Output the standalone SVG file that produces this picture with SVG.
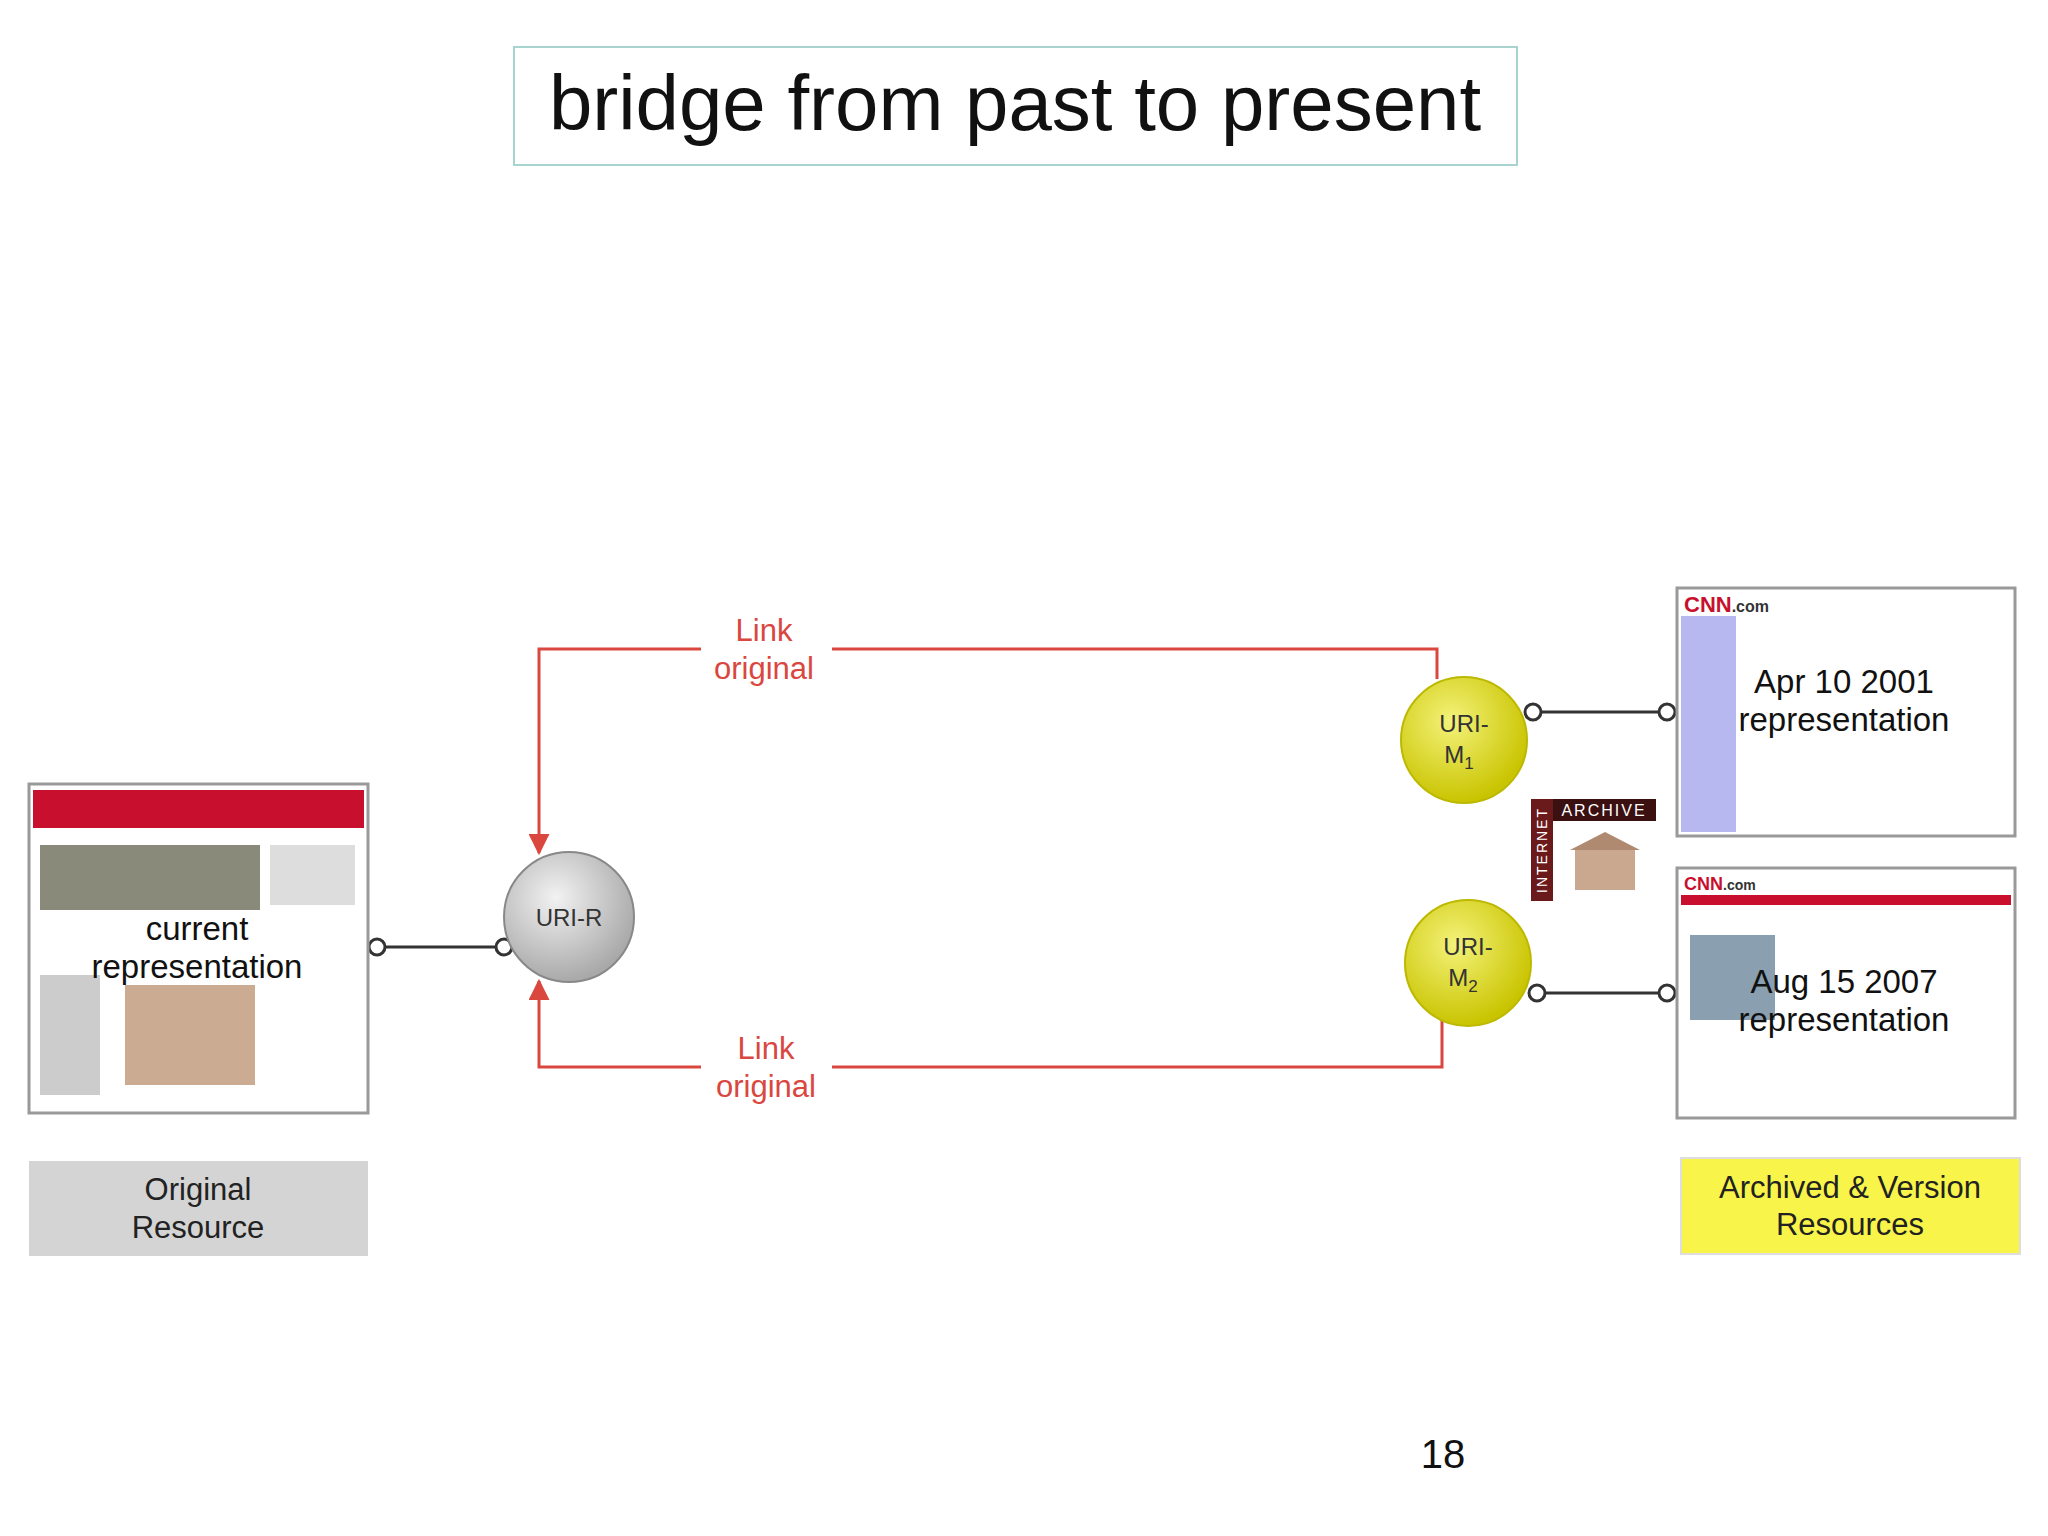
<svg xmlns="http://www.w3.org/2000/svg" width="2048" height="1536" viewBox="0 0 2048 1536">
<defs>
<style>
.t{font-family:"Liberation Sans",Arial,sans-serif}
.red{fill:none;stroke:#d9473f;stroke-width:3}
.lab{font-family:"Liberation Sans",Arial,sans-serif;font-size:31px;fill:#d9473f;text-anchor:middle}
.con{stroke:#333;stroke-width:3;fill:none}
.end{fill:#fff;stroke:#333;stroke-width:3}
.shot{fill:#fff;stroke:#999;stroke-width:3}
.over{font-family:"Liberation Sans",Arial,sans-serif;font-size:33px;fill:#111;text-anchor:middle}
.node{font-family:"Liberation Sans",Arial,sans-serif;font-size:24px;fill:#333;text-anchor:middle}
</style>
<marker id="ar" viewBox="0 0 10 10" refX="9" refY="5" markerWidth="7" markerHeight="7" orient="auto"><path d="M0,0L10,5L0,10z" fill="#d9473f"/></marker>
<radialGradient id="gy" cx="40%" cy="35%" r="65%"><stop offset="0" stop-color="#f4f27a"/><stop offset="1" stop-color="#c9c400"/></radialGradient>
<radialGradient id="gg" cx="40%" cy="35%" r="65%"><stop offset="0" stop-color="#f2f2f2"/><stop offset="1" stop-color="#a9a9a9"/></radialGradient>
</defs>
<rect width="2048" height="1536" fill="#fff"/>
<g id="title"><rect x="514" y="47" width="1003" height="118" fill="#fff" stroke="#a8d4d0" stroke-width="2"/>
<text class="t" x="1015" y="130" font-size="78" text-anchor="middle" fill="#111">bridge from past to present</text></g>

<g id="connectors">
<polyline class="red" points="1437,679 1437,649 832,649"/>
<polyline class="red" points="701,649 539,649 539,853" marker-end="url(#ar)"/>
<text class="lab" x="764" y="641">Link</text><text class="lab" x="764" y="679">original</text>
<polyline class="red" points="1442,1000 1442,1067 832,1067"/>
<polyline class="red" points="701,1067 539,1067 539,981" marker-end="url(#ar)"/>
<text class="lab" x="766" y="1059">Link</text><text class="lab" x="766" y="1097">original</text>
<line class="con" x1="377" y1="947" x2="504" y2="947"/><circle class="end" cx="377" cy="947" r="8"/><circle class="end" cx="504" cy="947" r="8"/>
<line class="con" x1="1533" y1="712" x2="1667" y2="712"/><circle class="end" cx="1533" cy="712" r="8"/><circle class="end" cx="1667" cy="712" r="8"/>
<line class="con" x1="1537" y1="993" x2="1667" y2="993"/><circle class="end" cx="1537" cy="993" r="8"/><circle class="end" cx="1667" cy="993" r="8"/>
</g>

<g id="current">
<rect class="shot" x="29" y="784" width="339" height="329"/>
<rect x="33" y="790" width="331" height="38" fill="#c8102e"/>
<rect x="40" y="845" width="220" height="65" fill="#8a8a7a"/>
<rect x="40" y="975" width="60" height="120" fill="#ccc"/>
<rect x="125" y="985" width="130" height="100" fill="#a8744a" opacity="0.6"/>
<rect x="270" y="845" width="85" height="60" fill="#ddd"/>
<text class="over" x="197" y="940">current</text><text class="over" x="197" y="978">representation</text>
</g>
<g id="original-label"><rect x="29" y="1161" width="339" height="95" fill="#d4d4d4"/>
<text class="t" x="198" y="1200" font-size="31" text-anchor="middle" fill="#222">Original</text>
<text class="t" x="198" y="1238" font-size="31" text-anchor="middle" fill="#222">Resource</text></g>

<g id="uri-r"><circle cx="569" cy="917" r="65" fill="url(#gg)" stroke="#888" stroke-width="2"/><text class="node" x="569" y="926">URI-R</text></g>
<g id="uri-m1"><circle cx="1464" cy="740" r="63" fill="url(#gy)" stroke="#bdb800" stroke-width="2"/><text class="node" x="1464" y="732">URI-</text><text class="node" x="1459" y="763">M<tspan font-size="17" dy="6">1</tspan></text></g>
<g id="uri-m2"><circle cx="1468" cy="963" r="63" fill="url(#gy)" stroke="#bdb800" stroke-width="2"/><text class="node" x="1468" y="955">URI-</text><text class="node" x="1463" y="986">M<tspan font-size="17" dy="6">2</tspan></text></g>

<g id="archive"><rect x="1531" y="799" width="22" height="102" fill="#6a1a1a"/><rect x="1553" y="799" width="103" height="22" fill="#3a1010"/>
<text class="t" x="1604" y="816" font-size="16" fill="#fff" text-anchor="middle" letter-spacing="2">ARCHIVE</text>
<text class="t" font-size="14" fill="#fff" text-anchor="middle" transform="translate(1547,850) rotate(-90)" letter-spacing="2">INTERNET</text>
<rect x="1575" y="850" width="60" height="40" fill="#c9a88f"/><polygon points="1570,850 1605,832 1640,850" fill="#b08a70"/></g>

<g id="memento1"><rect class="shot" x="1677" y="588" width="338" height="248"/>
<rect x="1681" y="616" width="55" height="216" fill="#b8b8f0"/>
<text class="t" x="1684" y="612" font-size="22" font-weight="bold" fill="#c8102e">CNN<tspan fill="#333" font-size="16">.com</tspan></text>
<text class="over" x="1844" y="693">Apr 10 2001</text><text class="over" x="1844" y="731">representation</text></g>
<g id="memento2"><rect class="shot" x="1677" y="868" width="338" height="250"/>
<rect x="1681" y="895" width="330" height="10" fill="#c8102e"/><rect x="1690" y="935" width="85" height="85" fill="#8aa0b0"/>
<text class="t" x="1684" y="890" font-size="18" font-weight="bold" fill="#c8102e">CNN<tspan fill="#333" font-size="14">.com</tspan></text>
<text class="over" x="1844" y="993">Aug 15 2007</text><text class="over" x="1844" y="1031">representation</text></g>
<g id="archived-label"><rect x="1681" y="1158" width="339" height="96" fill="#f8f44a" stroke="#ddd" stroke-width="2"/>
<text class="t" x="1850" y="1198" font-size="31" text-anchor="middle" fill="#222">Archived &amp; Version</text>
<text class="t" x="1850" y="1235" font-size="31" text-anchor="middle" fill="#222">Resources</text></g>
<text class="t" x="1443" y="1468" font-size="40" text-anchor="middle" fill="#111">18</text>
</svg>
